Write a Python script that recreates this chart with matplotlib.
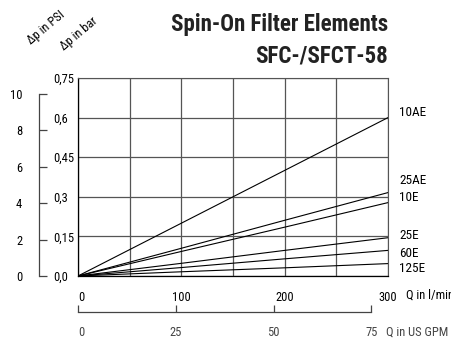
import matplotlib
matplotlib.use("Agg")
import matplotlib.pyplot as plt
from matplotlib import font_manager

# flow rate in l/min, pressure drop in bar
flow = [0, 100, 200, 300]
dp_10AE = [0, 0.2, 0.4, 0.6]
dp_25AE = [0, 0.105, 0.211, 0.316]
dp_10E = [0, 0.093, 0.185, 0.278]
dp_25E = [0, 0.048, 0.097, 0.145]
dp_60E = [0, 0.032, 0.065, 0.097]
dp_125E = [0, 0.016, 0.031, 0.047]

series = [dp_10AE, dp_25AE, dp_10E, dp_25E, dp_60E, dp_125E]
names = ["10AE", "25AE", "10E", "25E", "60E", "125E"]
# where the name sits at the right side (bar)
label_pos = [0.621, 0.360, 0.299, 0.152, 0.087, 0.027]

bar_ticks = [0.0, 0.15, 0.3, 0.45, 0.6, 0.75]
bar_labels = ["0,0", "0,15", "0,3", "0,45", "0,6", "0,75"]
flow_ticks = [0, 50, 100, 150, 200, 250, 300]
flow_labels = ["0", "", "100", "", "200", "", "300"]
psi_ticks = [0, 2, 4, 6, 8, 10]
gpm_ticks = [0, 25, 50, 75]

BAR2PSI = 14.5038
GPM2LPM = 3.78541

# condensed face like the original
avail = {f.name for f in font_manager.fontManager.ttflist}
if "Roboto Condensed" in avail:
    plt.rcParams["font.family"] = ["Roboto Condensed", "DejaVu Sans"]
else:
    plt.rcParams["font.family"] = ["Roboto", "DejaVu Sans"]

fig = plt.figure(figsize=(4.52, 3.41), dpi=100)
ax = fig.add_axes([78 / 452, 65 / 341, 310 / 452, 198 / 341])

for s in series:
    ax.plot(flow, s, color="black", lw=0.8)

ax.set_xlim(0, 300)
ax.set_ylim(0, 0.75)
ax.set_xticks(flow_ticks)
ax.set_xticklabels(flow_labels, fontsize=9)
ax.set_yticks(bar_ticks)
ax.set_yticklabels(bar_labels, fontsize=9, ha="left", va="center_baseline")
ax.tick_params(axis="y", length=0, pad=18)
ax.tick_params(axis="x", length=0, pad=11)
ax.get_xticklabels()[0].set_ha("left")
ax.grid(True, color="#555555", lw=0.9)
for sp in ["top", "right"]:
    ax.spines[sp].set_color("#555555")
ax.spines["left"].set_linewidth(0.9)
ax.spines["bottom"].set_linewidth(0.9)

for name, yv in zip(names, label_pos):
    ax.annotate(name, xy=(300, yv), xytext=(8, 0), textcoords="offset points",
                fontsize=9.5, va="center", ha="left")

# PSI scale
psi = ax.secondary_yaxis(-39 / 310, functions=(lambda b: b * BAR2PSI, lambda p: p / BAR2PSI))
psi.set_yticks(psi_ticks)
psi.tick_params(direction="in", length=6, width=0.9, pad=12, labelsize=9, color="#444444")
psi.spines["left"].set_bounds(0, 10)
psi.spines["left"].set_color("#444444")
psi.spines["left"].set_linewidth(0.9)

# GPM scale
gpm = ax.secondary_xaxis(-36 / 198, functions=(lambda q: q / GPM2LPM, lambda g: g * GPM2LPM))
gpm.set_xticks(gpm_ticks)
gpm.tick_params(direction="in", length=5, width=0.9, pad=10, labelsize=9, color="#444444")
gpm.spines["bottom"].set_bounds(0, 75)
gpm.spines["bottom"].set_color("#444444")
gpm.spines["bottom"].set_linewidth(0.9)
glabs = gpm.get_xticklabels()
glabs[0].set_ha("left")
for t in glabs:
    t.set_color("#444444")

ax.text(1.058, -0.096, "Q in l/min", transform=ax.transAxes, fontsize=9,
        ha="left", va="center")
ax.text(0.995, -0.283, "Q in US GPM", transform=ax.transAxes, fontsize=9,
        ha="left", va="center", color="#444444")

fig.text(46 / 452, 1 - 28 / 341, "Δp in PSI", rotation=40, fontsize=9,
         ha="center", va="center", rotation_mode="anchor")
fig.text(79 / 452, 1 - 34 / 341, "Δp in bar", rotation=40, fontsize=9,
         ha="center", va="center", rotation_mode="anchor")

fig.text(388 / 452, 1 - 31 / 341, "Spin-On Filter Elements", fontsize=16.5,
         fontweight="heavy", ha="right", va="baseline", color="#222222")
fig.text(388 / 452, 1 - 63 / 341, "SFC-/SFCT-58", fontsize=16.5,
         fontweight="heavy", ha="right", va="baseline", color="#222222")

fig.savefig("out.png", dpi=100)
